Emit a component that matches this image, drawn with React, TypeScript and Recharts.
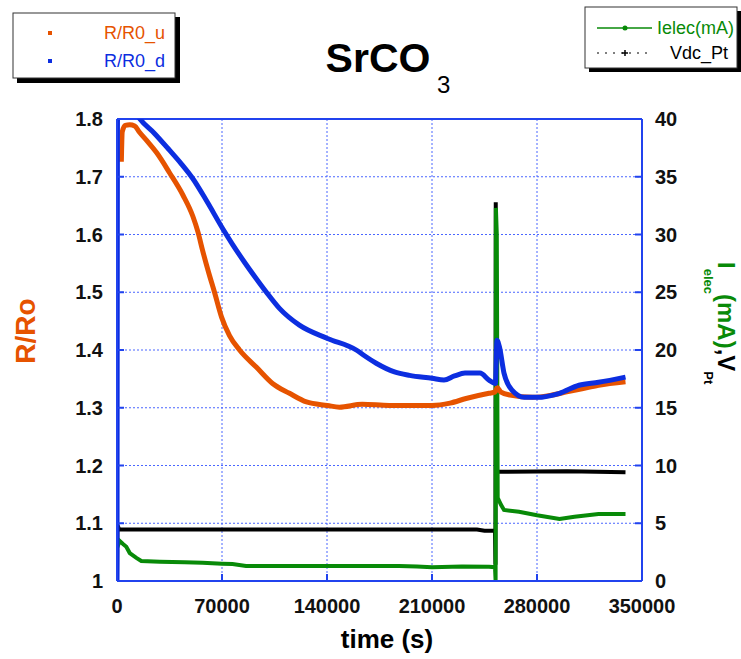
import React from 'react';
import { ComposedChart, Line, XAxis, YAxis, CartesianGrid, ReferenceLine } from 'recharts';

// ---- data ----
const xTicks = [0, 70000, 140000, 210000, 280000, 350000];
const leftTicks = [1, 1.1, 1.2, 1.3, 1.4, 1.5, 1.6, 1.7, 1.8];
const rightTicks = [0, 5, 10, 15, 20, 25, 30, 35, 40];

// R/R0_u (orange)
const uTime = [2900, 3500, 5500, 8500, 11800, 15000, 20000, 26600, 35000, 44000, 50500, 54000, 57000, 61000, 65000, 69700, 75000, 81700, 93000, 103700, 115000, 126300, 140300, 148300, 163500, 181500, 195000, 210000, 222000, 232700, 248000, 252000, 253500, 256000, 262000, 277000, 290000, 299000, 310000, 321000, 339000];
const uRatio = [1.726, 1.778, 1.789, 1.79, 1.788, 1.777, 1.762, 1.741, 1.707, 1.668, 1.632, 1.604, 1.573, 1.535, 1.5, 1.457, 1.425, 1.4, 1.37, 1.342, 1.325, 1.31, 1.304, 1.301, 1.306, 1.304, 1.304, 1.304, 1.308, 1.316, 1.325, 1.327, 1.335, 1.327, 1.322, 1.318, 1.322, 1.327, 1.333, 1.339, 1.345];

// R/R0_d (blue)
const dTime = [0, 400, 8000, 15300, 25000, 35000, 43000, 50500, 60000, 70500, 77000, 85000, 93000, 99600, 108300, 121600, 140300, 159500, 165000, 172800, 185000, 195000, 210000, 218000, 225000, 232000, 242000, 248000, 252300, 253300, 255000, 258000, 263500, 271500, 280000, 295000, 308000, 321000, 339000];
const dRatio = [1.0, 1.85, 1.83, 1.8, 1.775, 1.746, 1.722, 1.697, 1.657, 1.61, 1.583, 1.552, 1.523, 1.5, 1.472, 1.443, 1.42, 1.4, 1.39, 1.377, 1.362, 1.356, 1.351, 1.348, 1.355, 1.36, 1.36, 1.348, 1.342, 1.417, 1.405, 1.36, 1.33, 1.318, 1.318, 1.325, 1.339, 1.344, 1.353];

// Ielec(mA) (green)
const gTime = [0, 1800, 4000, 6200, 8500, 12900, 16200, 28600, 45000, 57000, 70000, 77000, 86000, 110000, 140000, 188000, 200000, 210000, 230000, 248000, 252000, 252400, 252600, 253200, 253800, 256000, 258000, 268000, 280000, 295000, 305000, 321000, 339000];
const gCurrent = [2.86, 3.46, 3.2, 2.97, 2.42, 2.0, 1.73, 1.67, 1.62, 1.58, 1.5, 1.47, 1.3, 1.3, 1.3, 1.3, 1.25, 1.19, 1.25, 1.24, 1.2, 0, 32.3, 30.0, 7.2, 6.6, 6.15, 6.0, 5.7, 5.37, 5.57, 5.8, 5.8];

// Vdc_Pt (black)
const vTime = [0, 300, 1500, 120000, 240000, 245000, 252000, 252300, 252500, 252900, 300000, 339000];
const vVoltage = [0, 4.85, 4.45, 4.45, 4.45, 4.35, 4.35, 1.4, 32.8, 9.46, 9.5, 9.42];

const zip = (ts: number[], vs: number[]) => ts.map((t, i) => ({ t, v: vs[i] }));
const uData = zip(uTime, uRatio);
const dData = zip(dTime, dRatio);
const gData = zip(gTime, gCurrent);
const vData = zip(vTime, vVoltage);

// ---- styles ----
const FONT = '"Liberation Sans", Arial, Helvetica, sans-serif';
const ORANGE = '#e65300';
const BLUE = '#0c2ee0';
const AXIS = '#2143ee';
const GRID = '#4a66ff';
const GREEN = '#088a08';

const tickStyle = { fill: '#111', fontSize: 20, fontWeight: 'bold' as const, fontFamily: FONT };

export default function App() {
  return (
    <div style={{ position: 'absolute', left: 0, top: 0, width: 741, height: 659, background: '#fff', fontFamily: FONT }}>
      <ComposedChart width={741} height={659} margin={{ top: 119, right: 39, bottom: 38, left: 17 }}>
        <CartesianGrid yAxisId="left" stroke={GRID} strokeDasharray="2 2" strokeWidth={1} />
        <XAxis
          dataKey="t"
          type="number"
          domain={[0, 350000]}
          ticks={xTicks}
          interval={0}
          height={40}
          tick={tickStyle}
          tickSize={-7}
          tickMargin={25}
          axisLine={{ stroke: AXIS, strokeWidth: 2 }}
          tickLine={{ stroke: AXIS, strokeWidth: 2 }}
          allowDataOverflow
        />
        <YAxis
          yAxisId="left"
          type="number"
          domain={[1, 1.8]}
          ticks={leftTicks}
          interval={0}
          width={100}
          allowDataOverflow
          tick={tickStyle}
          tickSize={-7}
          tickMargin={21}
          tickFormatter={(v: number) => (v === 1 ? '1' : v.toFixed(1))}
          axisLine={{ stroke: AXIS, strokeWidth: 2 }}
          tickLine={{ stroke: AXIS, strokeWidth: 2 }}
        />
        <YAxis
          yAxisId="right"
          orientation="right"
          type="number"
          domain={[0, 40]}
          ticks={rightTicks}
          interval={0}
          width={60}
          allowDataOverflow
          tick={tickStyle}
          tickSize={-7}
          tickMargin={20}
          axisLine={{ stroke: AXIS, strokeWidth: 2 }}
          tickLine={{ stroke: AXIS, strokeWidth: 2 }}
        />
        <ReferenceLine yAxisId="left" y={1.8} stroke={AXIS} strokeWidth={2} />
        <Line yAxisId="right" data={vData} dataKey="v" type="linear" stroke="#000" strokeWidth={4} dot={false} isAnimationActive={false} />
        <Line yAxisId="right" data={gData} dataKey="v" type="linear" stroke={GREEN} strokeWidth={4} dot={false} isAnimationActive={false} />
        <Line yAxisId="left" data={uData} dataKey="v" type="monotone" stroke={ORANGE} strokeWidth={5} dot={false} isAnimationActive={false} />
        <Line yAxisId="left" data={dData} dataKey="v" type="monotone" stroke={BLUE} strokeWidth={5} dot={false} isAnimationActive={false} />
      </ComposedChart>

      <svg width={741} height={659} style={{ position: 'absolute', left: 0, top: 0, pointerEvents: 'none' }} fontFamily={FONT}>
        {/* Title */}
        <text x={378} y={72} textAnchor="middle" fontSize={41} fontWeight="bold" fill="#000">SrCO</text>
        <text x={437} y={93} fontSize={24} fill="#000">3</text>

        {/* x label */}
        <text x={387} y={648} textAnchor="middle" fontSize={26} fontWeight="bold" fill="#000">time (s)</text>

        {/* left label */}
        <text transform="translate(35,331) rotate(-90)" textAnchor="middle" fontSize={28} fontWeight="bold" fill={ORANGE}>R/Ro</text>

        {/* right label */}
        <text transform="translate(718,262) rotate(90)" fontSize={24} fontWeight="bold" fill={GREEN}>
          <tspan>I</tspan>
          <tspan fontSize={13} dy={14}>elec</tspan>
          <tspan dy={-14}>(mA)</tspan>
          <tspan fill="#000">,V</tspan>
          <tspan fill="#000" fontSize={13} dy={14}>Pt</tspan>
        </text>

        {/* left legend */}
        <rect x={17} y={17} width={163} height={66} fill="#000" />
        <rect x={13} y={13} width={162} height={65} fill="#fff" stroke="#333" strokeWidth={1} />
        <rect x={48} y={31} width={4} height={4} fill={ORANGE} />
        <text x={165} y={39} textAnchor="end" fontSize={18} fill={ORANGE}>R/R0_u</text>
        <rect x={48} y={59} width={4} height={4} fill={BLUE} />
        <text x={165} y={67} textAnchor="end" fontSize={18} fill={BLUE}>R/R0_d</text>

        {/* right legend */}
        <rect x={589} y={11} width={152} height={61} fill="#000" />
        <rect x={585} y={7} width={152} height={61} fill="#fff" stroke="#333" strokeWidth={1} />
        <line x1={597} y1={28} x2={652} y2={28} stroke={GREEN} strokeWidth={1.5} />
        <circle cx={625} cy={28} r={2.5} fill={GREEN} />
        <text x={657} y={34} fontSize={18} fill={GREEN}>Ielec(mA)</text>
        <line x1={597} y1={53} x2={652} y2={53} stroke="#000" strokeWidth={1.2} strokeDasharray="2 6" />
        <line x1={622} y1={53} x2={628} y2={53} stroke="#000" strokeWidth={1.5} />
        <line x1={625} y1={50} x2={625} y2={56} stroke="#000" strokeWidth={1.5} />
        <text x={670} y={59} fontSize={18} fill="#000">Vdc_Pt</text>
      </svg>
    </div>
  );
}
